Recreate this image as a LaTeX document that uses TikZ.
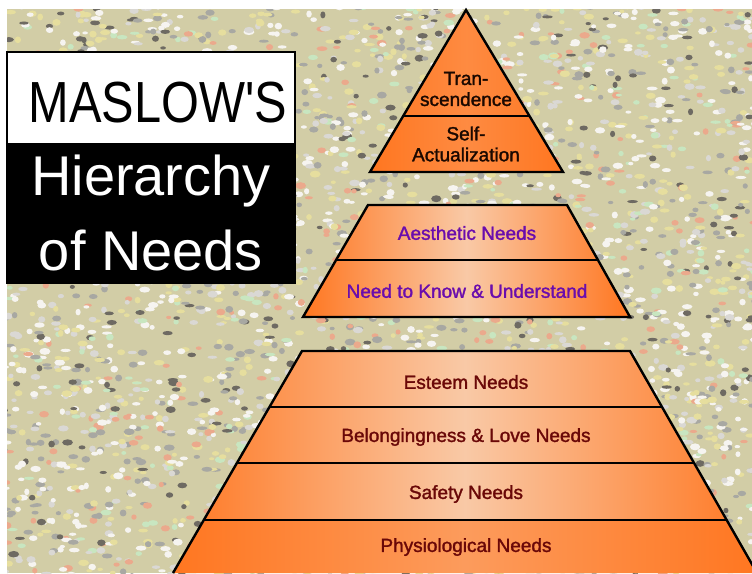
\documentclass[tikz,border=0pt]{standalone}
\usepackage{fontspec}
\setmainfont{Liberation Sans}
\newfontfamily\lblfont[FakeBold=1.6]{Liberation Sans}
\definecolor{bgbase}{HTML}{D2CDA6}
\definecolor{orng}{HTML}{FF7620}
\definecolor{peach}{HTML}{F9C9A6}
\definecolor{purp}{HTML}{6A0DAD}
\definecolor{dred}{HTML}{6A0808}
\definecolor{tdark}{HTML}{1A0800}
\definecolor{spotA}{HTML}{F6F4F0}
\definecolor{spotB}{HTML}{A8A8A2}
\definecolor{spotC}{HTML}{6E6A62}
\definecolor{spotD}{HTML}{EBA98C}
\definecolor{spotE}{HTML}{C8E6C0}
\definecolor{spotF}{HTML}{E6DE9E}
\definecolor{spotG}{HTML}{DAD8D4}
\pgfmathdeclarerandomlist{spots}{{spotA}{spotB}{spotC}{spotD}{spotE}{spotF}{spotA}{spotG}{spotG}{spotB}{spotF}{spotA}}
\begin{document}
\begin{tikzpicture}[x=1pt,y=-1pt,
  tier/.style={draw=black,line width=2.4pt,line join=miter},
  sep/.style={draw=black,line width=2.4pt},
  lbl/.style={font=\lblfont\fontsize{19}{21}\selectfont,align=center,inner sep=0pt},
  toplbl/.style={lbl,text=tdark},
  midlbl/.style={lbl,text=purp},
  botlbl/.style={lbl,text=dred},
  titlebig/.style={font=\fontsize{56}{60}\selectfont,inner sep=0pt,anchor=base}]
\useasboundingbox (0,0) rectangle (752,573);
\fill[white] (0,0) rectangle (752,573);
% textured background
\begin{scope}
\clip (7,9) rectangle (752,573);
\fill[bgbase] (7,9) rectangle (752,573);
\pgfmathsetseed{4242}
\foreach \i in {1,...,3800}{
  \pgfmathsetmacro\px{3+752*rnd}
  \pgfmathsetmacro\py{5+572*rnd}
  \pgfmathsetmacro\rx{2.5+3*rnd}
  \pgfmathsetmacro\ry{1.5+2*rnd}
  \pgfmathrandomitem{\c}{spots}
  \fill[\c] (\px,\py) ellipse[x radius=\rx pt,y radius=\ry pt];
}
\end{scope}
% title box
\fill[black] (7,144) rectangle (295,283);
\draw[fill=white,line width=1.5pt] (7,52) rectangle (295,144);
\draw[line width=1.5pt] (7,144) rectangle (295,283);
\node[titlebig,font=\fontsize{58}{60}\selectfont,xscale=0.84] (t1) at (158,122) {MASLOW\textquotesingle S};
\node[titlebig,text=white] (t2) at (151,195) {Hierarchy};
\node[titlebig,text=white] (t3) at (151,270) {of Needs};
% top triangle
\path[tier,left color=orng,right color=orng,middle color=orng!75!peach] (466,10) -- (563,172) -- (370,172) -- cycle;
\draw[sep] (403,116) -- (529,116);
% middle trapezoid
\path[tier,left color=orng,right color=orng,middle color=peach] (368,205) -- (567,205) -- (630,317) -- (303,317) -- cycle;
\draw[sep] (337,260) -- (598,260);
% bottom trapezoid
\begin{scope}
\clip (0,0) rectangle (752,573);
\begin{scope}
\clip (302,351) -- (630,351) -- (757,573) -- (173,573) -- cycle;
\fill[left color=orng,right color=orng,middle color=peach] (170,351) rectangle (760,520);
\fill[left color=orng,right color=orng,middle color=orng!55!peach] (170,520) rectangle (760,573);
\draw[sep] (200,407) -- (720,407);
\draw[sep] (200,463) -- (720,463);
\draw[sep] (170,520) -- (760,520);
\end{scope}
\draw[tier] (173,573) -- (302,351) -- (630,351) -- (757,573);
\end{scope}
% labels
\node[toplbl] (tr) at (466,89) {Tran-\\scendence};
\node[toplbl] (sa) at (466,144) {Self-\\Actualization};
\node[midlbl] (ae) at (467,233) {Aesthetic Needs};
\node[midlbl] (nk) at (467,291) {Need to Know \& Understand};
\node[botlbl] (es) at (466,382) {Esteem Needs};
\node[botlbl] (be) at (466,437) {Belongingness \& Love Needs};
\node[botlbl] (sf) at (466,494) {Safety Needs};
\node[botlbl] (ph) at (466,547) {Physiological Needs};
\end{tikzpicture}
\end{document}
